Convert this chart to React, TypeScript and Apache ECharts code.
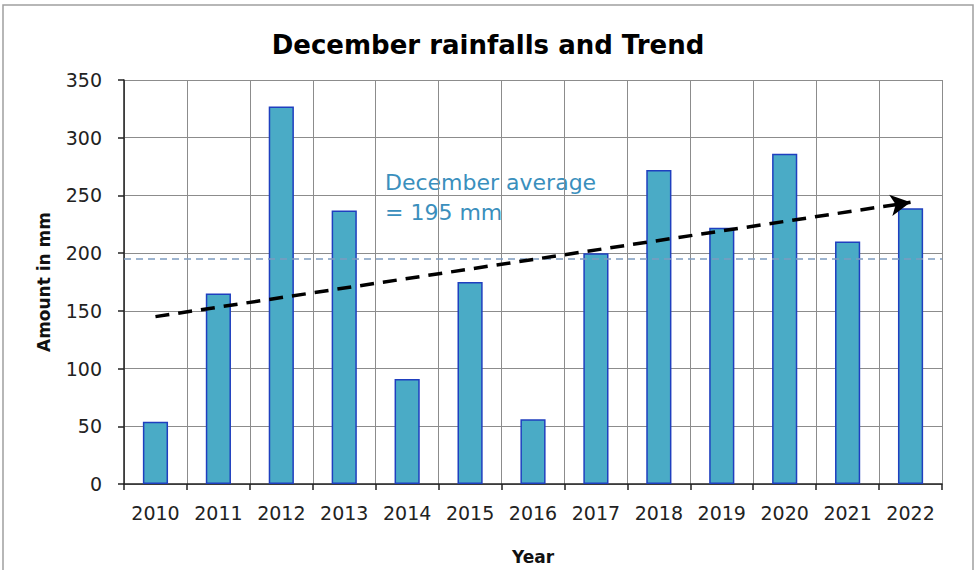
import React, { useEffect, useRef } from "react";
import * as echarts from "echarts";

const years = ["2010", "2011", "2012", "2013", "2014", "2015", "2016", "2017", "2018", "2019", "2020", "2021", "2022"];
const rainfall = [54, 165, 327, 237, 91, 175, 56, 200, 272, 222, 286, 210, 239];
const decemberAverage = 195;
const trendStart = 145;
const trendEnd = 244;
const yTicks = { min: 0, max: 350, interval: 50 };

export default function App() {
  const ref = useRef<HTMLDivElement>(null);
  useEffect(() => {
    if (!ref.current) return;
    const chart = echarts.init(ref.current, undefined, { renderer: "svg" });
    const font = "DejaVu Sans";
    chart.setOption({
      animation: false,
      backgroundColor: "#ffffff",
      title: {
        text: "December rainfalls and Trend",
        left: "center",
        top: 27,
        textStyle: { fontFamily: font, fontWeight: "bold", fontSize: 26, color: "#000" },
      },
      grid: { left: 124, right: 34, top: 80, bottom: 80 },
      xAxis: {
        type: "category",
        data: years,
        name: "Year",
        nameLocation: "middle",
        nameGap: 64,
        nameTextStyle: { fontFamily: font, fontWeight: "bold", fontSize: 17, color: "#111" },
        axisLine: { lineStyle: { color: "#222", width: 1.5 } },
        axisTick: { show: true, length: 6, lineStyle: { color: "#222", width: 1.5 } },
        axisLabel: { fontFamily: font, fontSize: 19, color: "#222", margin: 19 },
        splitLine: { show: true, lineStyle: { color: "#8c8c8c", width: 1 } },
      },
      yAxis: {
        type: "value",
        min: yTicks.min,
        max: yTicks.max,
        interval: yTicks.interval,
        name: "Amount in mm",
        nameLocation: "middle",
        nameGap: 72,
        nameRotate: 90,
        nameTextStyle: { fontFamily: font, fontWeight: "bold", fontSize: 17, color: "#111" },
        axisLine: { show: true, lineStyle: { color: "#222", width: 1.5 } },
        axisTick: { show: true, length: 6, lineStyle: { color: "#222", width: 1.5 } },
        axisLabel: { fontFamily: font, fontSize: 19, color: "#222", margin: 22 },
        splitLine: { show: true, lineStyle: { color: "#8c8c8c", width: 1 } },
      },
      series: [
        {
          type: "bar",
          data: rainfall,
          barWidth: "40%",
          itemStyle: { color: "#4aabc6", borderColor: "#1f3fbf", borderWidth: 1.5 },
          markLine: {
            silent: true,
            symbol: ["none", "none"],
            label: { show: false },
            data: [
              {
                yAxis: decemberAverage,
                lineStyle: { color: "#7d9cc0", type: [7, 5], width: 1.5 },
              },
              [
                {
                  coord: [years[0], trendStart],
                  symbol: "none",
                  lineStyle: { color: "#000", type: [14, 9], width: 3.5 },
                },
                { coord: [years[years.length - 1], trendEnd], symbol: "arrow", symbolSize: [16, 20] },
              ],
            ],
          },
        },
      ],
      graphic: [
        {
          type: "rect",
          shape: { x: 3, y: 5, width: 970, height: 600 },
          style: { fill: "none", stroke: "#a0a0a0", lineWidth: 1.5 },
          silent: true,
        },
        {
          type: "text",
          x: 385,
          y: 167,
          style: {
            text: "December average\n= 195 mm",
            font: `22px "${font}"`,
            fill: "#3a8fbd",
            lineHeight: 30,
          },
        },
      ],
    });
    return () => chart.dispose();
  }, []);
  return <div ref={ref} style={{ position: "fixed", left: 0, top: 0, width: 976, height: 570 }} />;
}
